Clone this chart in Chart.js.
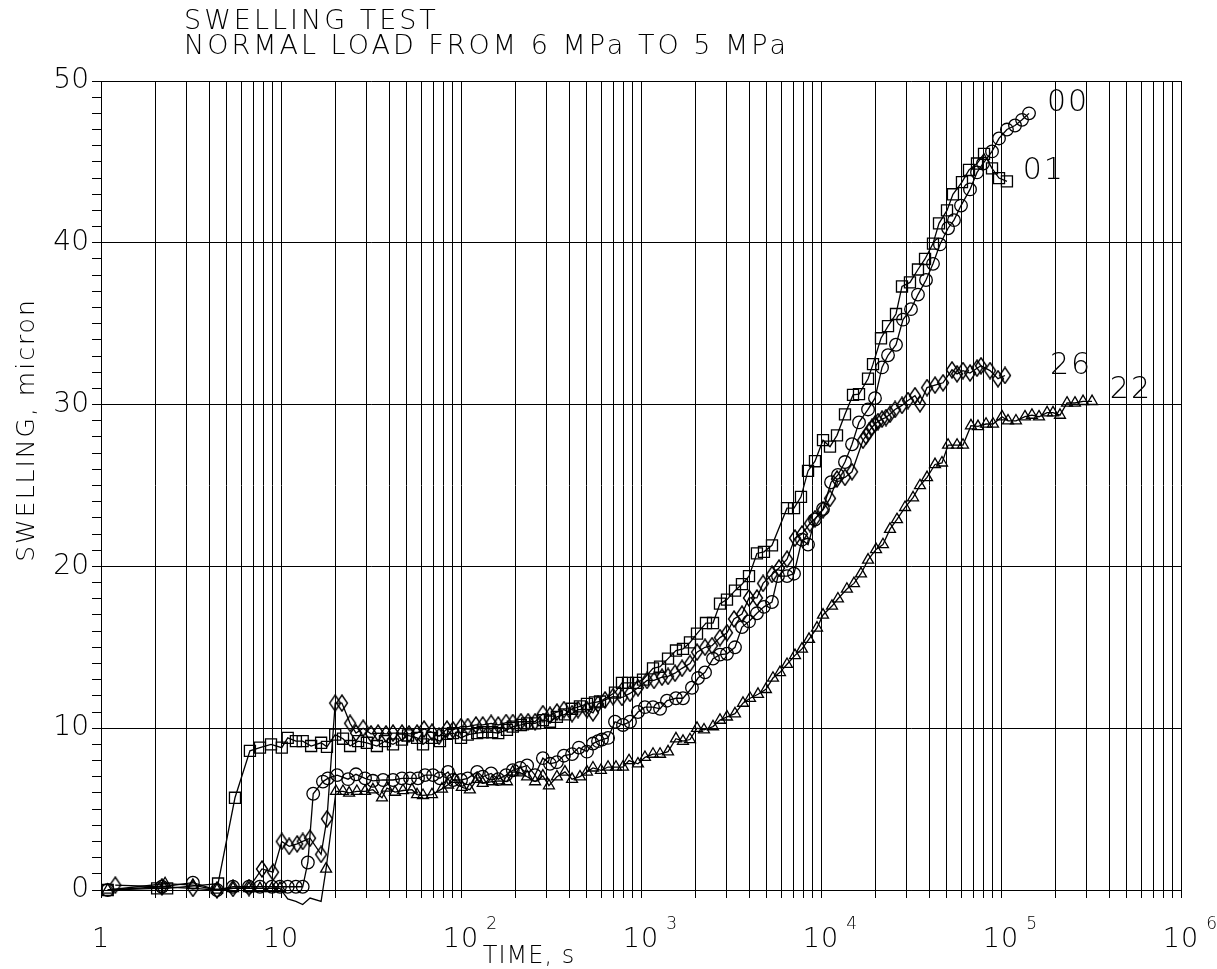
<!DOCTYPE html>
<html>
<head>
<meta charset="utf-8">
<script src="https://cdn.jsdelivr.net/npm/chart.js@4.4.1/dist/chart.umd.min.js"></script>
<style>
  html, body { margin: 0; padding: 0; background: #fff; }
</style>
</head>
<body>
<canvas id="chart" width="1217" height="969"></canvas>
<script>
const FONT = "'DejaVu Sans', 'Liberation Sans', sans-serif";

const titleLines = ["SWELLING TEST", "NORMAL LOAD FROM 6 MPa TO 5 MPa"];
const xTitle = "TIME, s";
const yTitle = "SWELLING, micron";

// curve names and where they are written (time, swelling)
const curveNames = ["00", "01", "26", "22"];
const nameTime = [236000, 173000, 245000, 527000];
const nameSwell = [48.6, 44.4, 32.4, 30.9];

// x tick labels at the decades: base text and exponent
const decadeValues = [1, 10, 100, 1000, 10000, 100000, 1000000];
const decadeBase = ["1", "10", "10", "10", "10", "10", "10"];
const decadeExp = ["", "", "2", "3", "4", "5", "6"];

// series 00 (circles)
const time00 = [1.09, 2.18, 3.24, 4.41, 5.41, 6.64, 7.64, 8.91, 9.87, 10.9,
  12.1, 13.2, 14.1, 15.1, 17.1, 18.2, 20.5, 23.6, 26.1, 29.3,
  32.4, 36.9, 41.9, 47.0, 52.1, 57.7, 63.1, 69.9, 76.4, 84.7,
  90.3, 100, 109, 123, 132, 147, 161, 178, 194, 213,
  233, 258, 285, 312, 341, 373, 414, 452, 501, 541,
  577, 607, 656, 717, 794, 869, 962, 1052, 1166, 1276,
  1394, 1564, 1711, 1919, 2073, 2268, 2512, 2747, 3004, 3327,
  3638, 3981, 4406, 4820, 5342, 5770, 6474, 7080, 7840, 8470,
  9260, 10260, 11370, 12420, 13590, 14870, 16260, 18250, 19950, 21830,
  23570, 26100, 28550, 31620, 34570, 38310, 41900, 45800, 50800, 54800,
  59950, 67270, 73580, 79430, 89130, 97480, 107900, 119600, 130900, 143100];
const swell00 = [0, 0.2, 0.45, 0, 0.2, 0.2, 0.2, 0.2, 0.2, 0.2,
  0.2, 0.2, 1.7, 5.95, 6.7, 6.9, 7.1, 6.85, 7.15, 6.9,
  6.75, 6.8, 6.8, 6.9, 6.9, 6.9, 7.1, 7.1, 6.9, 7.3,
  6.8, 6.8, 6.9, 7.3, 7.0, 7.2, 6.85, 7.1, 7.4, 7.55,
  7.7, 7.1, 8.15, 7.8, 7.9, 8.3, 8.4, 8.8, 8.55, 9.05,
  9.2, 9.3, 9.4, 10.4, 10.2, 10.4, 11.0, 11.3, 11.3, 11.2,
  11.7, 11.85, 11.85, 12.5, 13.1, 13.45, 14.3, 14.55, 14.6, 15.0,
  16.25, 16.6, 17.1, 17.5, 17.8, 19.4, 19.4, 19.55, 21.65, 21.35,
  22.9, 23.55, 25.2, 25.65, 26.45, 27.55, 28.9, 29.7, 30.4, 32.3,
  33.05, 33.7, 35.25, 35.9, 36.8, 37.7, 38.7, 39.9, 40.9, 41.4,
  42.3, 43.3, 44.35, 44.9, 45.65, 46.45, 47.0, 47.25, 47.6, 48.0];

// series 01 (squares)
const time01 = [1.09, 2.05, 2.33, 4.47, 5.55, 6.72, 7.64, 8.80, 10.1, 10.9,
  12.1, 13.2, 14.7, 16.7, 18.0, 20.0, 22.1, 24.2, 26.8, 30.0,
  34.1, 37.8, 41.9, 47.0, 50.8, 57.0, 61.5, 69.0, 76.4, 83.6,
  90.3, 100, 109, 123, 132, 149, 161, 180, 194, 215,
  233, 258, 285, 312, 341, 378, 414, 458, 501, 555,
  592, 717, 784, 847, 938, 1026, 1166, 1276, 1413, 1564,
  1711, 1871, 2047, 2296, 2512, 2747, 3004, 3327, 3638, 3981,
  4406, 4820, 5342, 6474, 7080, 7740, 8470, 9260, 10260, 11220,
  12270, 13590, 15060, 16260, 18250, 19450, 21540, 23570, 26100, 28180,
  31210, 34570, 37840, 41900, 45250, 50120, 54080, 60700, 66400, 73580,
  80470, 89130, 97480, 107900];
const swell01 = [0, 0.1, 0.1, 0.4, 5.7, 8.6, 8.8, 9.0, 8.8, 9.4,
  9.2, 9.2, 8.9, 9.1, 8.85, 9.6, 9.35, 8.9, 9.2, 9.1,
  8.9, 9.2, 9.0, 9.3, 9.55, 9.4, 9.0, 9.4, 9.2, 9.65,
  9.7, 9.4, 9.6, 9.7, 9.75, 9.75, 9.7, 9.9, 10.1, 10.2,
  10.3, 10.3, 10.5, 10.4, 10.7, 10.85, 11.2, 11.35, 11.5, 11.6,
  11.65, 12.2, 12.8, 12.8, 12.8, 13.0, 13.7, 13.8, 14.3, 14.8,
  14.9, 15.3, 15.85, 16.5, 16.5, 17.7, 17.95, 18.5, 18.9, 19.4,
  20.8, 20.9, 21.3, 23.6, 23.6, 24.3, 25.9, 26.5, 27.8, 27.4,
  28.1, 29.4, 30.6, 30.65, 31.6, 32.5, 34.1, 34.85, 35.6, 37.3,
  37.55, 38.35, 39.0, 39.95, 41.2, 42.0, 43.0, 43.75, 44.5, 44.9,
  45.5, 44.6, 44.0, 43.8];

// series 26 (diamonds)
const time26 = [1.20, 2.18, 3.24, 4.41, 5.41, 6.64, 7.84, 9.03, 10.1, 11.1,
  12.3, 13.2, 14.5, 16.7, 18.0, 20.0, 21.8, 24.2, 26.1, 28.6,
  31.6, 34.6, 38.3, 41.9, 47.0, 51.4, 57.0, 62.3, 69.0, 75.5,
  83.6, 90.3, 100, 109, 121, 132, 147, 161, 178, 194,
  215, 236, 258, 285, 312, 341, 373, 414, 447, 501,
  541, 577, 631, 699, 784, 869, 962, 1080, 1181, 1308,
  1413, 1545, 1690, 1871, 2047, 2268, 2480, 2747, 3004, 3286,
  3638, 3981, 4406, 4764, 5342, 5843, 6474, 7170, 7840, 8680,
  9260, 10260, 11220, 12270, 13590, 14870, 17110, 17780, 18480, 19190,
  19950, 20730, 21830, 22960, 24170, 25770, 28180, 30420, 33270, 35480,
  38820, 42990, 47640, 53420, 57000, 61500, 67270, 73580, 77400, 86890,
  96230, 105200];
const swell26 = [0.3, 0.2, 0.1, 0, 0.1, 0.15, 1.3, 1.1, 3.0, 2.7,
  2.85, 3.0, 3.2, 2.2, 4.4, 11.55, 11.55, 10.3, 9.7, 10.0,
  9.65, 9.7, 9.65, 9.7, 9.7, 9.65, 9.7, 9.95, 9.75, 9.5,
  9.95, 9.9, 10.1, 10.1, 10.2, 10.2, 10.3, 10.2, 10.35, 10.35,
  10.4, 10.4, 10.4, 10.9, 10.8, 11.0, 11.15, 10.9, 11.15, 11.15,
  10.95, 11.5, 11.75, 11.95, 11.9, 12.15, 12.5, 12.95, 12.95, 13.15,
  13.2, 13.4, 13.7, 14.0, 14.7, 15.0, 15.1, 15.6, 15.9, 16.75,
  17.05, 18.05, 18.05, 18.95, 19.5, 19.9, 20.45, 21.75, 22.0, 22.65,
  22.95, 23.5, 24.2, 25.4, 25.5, 25.85, 27.8, 28.05, 28.35, 28.6,
  28.8, 28.95, 29.1, 29.2, 29.4, 29.7, 29.95, 30.25, 30.55, 30.05,
  31.05, 31.2, 31.35, 32.15, 31.9, 32.1, 31.95, 32.25, 32.4, 32.1,
  31.6, 31.8];

// series 22 (triangles)
const time22 = [1.09, 2.27, 3.24, 4.41, 5.41, 6.64, 7.64, 8.91, 9.87, 10.9,
  12.1, 13.2, 14.5, 16.7, 17.8, 20.2, 22.1, 23.9, 26.4, 29.3,
  32.4, 36.4, 38.8, 43.0, 47.6, 53.4, 57.0, 61.5, 69.0, 78.4,
  84.7, 92.6, 101, 112, 123, 132, 149, 163, 180, 194,
  213, 233, 258, 285, 308, 341, 378, 414, 458, 501,
  541, 599, 656, 726, 794, 858, 962, 1052, 1166, 1276,
  1413, 1564, 1711, 1871, 2047, 2239, 2512, 2747, 3004, 3327,
  3686, 4034, 4467, 4943, 5411, 5918, 6474, 7170, 7840, 8580,
  9500, 10260, 11510, 12420, 13930, 15250, 16680, 18250, 20220, 22100,
  24170, 26430, 29310, 32460, 35480, 38820, 42990, 47010, 50800, 57000,
  61500, 68100, 74500, 82600, 90300, 101300, 109400, 121100, 135900, 148600,
  162600, 180300, 194500, 212700, 232700, 257600, 285600, 320500];
const swell22 = [0, 0.4, 0.3, 0, 0.1, 0.1, 0.1, 0.1, 0.1, -0.55,
  -0.7, -0.9, -0.5, -0.7, 1.3, 6.1, 6.1, 6.0, 6.1, 6.1,
  6.2, 5.7, 6.3, 6.05, 6.15, 6.2, 5.9, 5.85, 5.9, 6.25,
  6.5, 6.85, 6.35, 6.2, 6.85, 6.6, 6.7, 6.75, 6.7, 7.3,
  7.25, 7.0, 6.7, 7.05, 6.45, 7.0, 7.3, 6.85, 7.0, 7.3,
  7.55, 7.4, 7.6, 7.6, 7.6, 8.0, 7.8, 8.2, 8.4, 8.4,
  8.55, 9.35, 9.2, 9.3, 10.0, 9.9, 10.1, 10.5, 10.7, 10.9,
  11.55, 11.85, 12.1, 12.4, 13.1, 13.45, 13.95, 14.5, 14.9, 15.5,
  16.2, 17.0, 17.55, 18.0, 18.6, 18.95, 19.55, 20.4, 21.05, 21.35,
  22.3, 22.9, 23.65, 24.25, 25.0, 25.5, 26.3, 26.4, 27.5, 27.5,
  27.5, 28.7, 28.65, 28.8, 28.8, 29.25, 29.0, 29.0, 29.25, 29.35,
  29.25, 29.5, 29.5, 29.35, 30.1, 30.1, 30.2, 30.2];

// grid lines at 1..9 x 10^n
const gridValues = [];
for (let e = 0; e < 6; e++) {
  for (let m = 1; m < 10; m++) gridValues.push(m * Math.pow(10, e));
}
gridValues.push(1000000);

function pairs(ts, vs) {
  return ts.map((t, i) => ({ x: t, y: vs[i] }));
}

// tall hollow diamond marker
function diamondMarker() {
  const c = document.createElement('canvas');
  c.width = 14; c.height = 18;
  const g = c.getContext('2d');
  g.strokeStyle = '#000';
  g.lineWidth = 1.4;
  g.beginPath();
  g.moveTo(7, 1); g.lineTo(12.5, 9); g.lineTo(7, 17); g.lineTo(1.5, 9); g.closePath();
  g.stroke();
  return c;
}

function series(label, ts, vs, style, radius) {
  return {
    label: label,
    data: pairs(ts, vs),
    borderColor: '#000',
    backgroundColor: 'rgba(0,0,0,0)',
    borderWidth: 1.3,
    pointStyle: style,
    pointRadius: radius,
    pointBorderWidth: 1.3,
    pointBorderColor: '#000',
    pointBackgroundColor: 'rgba(0,0,0,0)',
    tension: 0,
    fill: false,
    clip: false
  };
}

const annotate = {
  id: 'annotate',
  afterDraw(chart) {
    const { ctx, scales: { x, y } } = chart;
    ctx.save();
    ctx.fillStyle = '#000';
    ctx.font = "200 27px " + FONT;
    ctx.letterSpacing = '3px';
    ctx.textAlign = 'left';
    ctx.textBaseline = 'alphabetic';
    ctx.fillText(titleLines[0], 184, 29);
    ctx.fillText(titleLines[1], 184, 54);

    // decade labels: base centred on the grid line, exponent raised to its right
    ctx.letterSpacing = '1px';
    ctx.textBaseline = 'middle';
    decadeValues.forEach((v, i) => {
      const px = x.getPixelForValue(v);
      ctx.font = "200 27px " + FONT;
      ctx.textAlign = 'center';
      ctx.fillText(decadeBase[i], px, 940);
      if (decadeExp[i]) {
        const half = ctx.measureText(decadeBase[i]).width / 2;
        ctx.font = "200 17px " + FONT;
        ctx.textAlign = 'left';
        ctx.fillText(decadeExp[i], px + half + 7, 925);
      }
    });

    ctx.letterSpacing = '2px';
    ctx.font = "200 30px " + FONT;
    ctx.textAlign = 'center';
    ctx.textBaseline = 'middle';
    curveNames.forEach((n, i) => {
      ctx.fillText(n, x.getPixelForValue(nameTime[i]), y.getPixelForValue(nameSwell[i]));
    });

    ctx.font = "200 24px " + FONT;
    ctx.letterSpacing = '1px';
    ctx.fillText(xTitle, 529, 957);
    ctx.letterSpacing = '2px';
    ctx.font = "200 25px " + FONT;
    ctx.translate(27, 430);
    ctx.rotate(-Math.PI / 2);
    ctx.fillText(yTitle, 0, 0);
    ctx.restore();
  }
};

new Chart(document.getElementById('chart'), {
  type: 'line',
  data: {
    datasets: [
      series('00', time00, swell00, 'circle', 6.3),
      series('01', time01, swell01, 'rect', 7.8),
      series('26', time26, swell26, diamondMarker(), 7),
      series('22', time22, swell22, 'triangle', 6.3)
    ]
  },
  options: {
    responsive: false,
    animation: false,
    devicePixelRatio: 1,
    layout: { padding: { left: 0, right: 36, top: 81, bottom: 0 } },
    plugins: {
      legend: { display: false },
      title: { display: false },
      tooltip: { enabled: false }
    },
    scales: {
      x: {
        type: 'logarithmic',
        min: 1,
        max: 1000000,
        afterBuildTicks: (scale) => {
          scale.ticks = gridValues.map(v => ({ value: v }));
        },
        afterFit: (scale) => {
          scale.height = 79;
          scale.paddingLeft = 0;
          scale.paddingRight = 0;
        },
        grid: { color: '#000', lineWidth: 1, drawTicks: true, tickLength: 8, tickColor: '#000' },
        border: { display: true, color: '#000', width: 1 },
        ticks: { display: false, autoSkip: false, maxRotation: 0 }
      },
      y: {
        type: 'linear',
        min: 0,
        max: 50,
        afterFit: (scale) => { scale.width = 101; },
        grid: {
          color: (c) => (c.tick && c.tick.value % 10 === 0) ? '#000' : 'rgba(0,0,0,0)',
          lineWidth: 1,
          drawTicks: true,
          tickLength: 9,
          tickColor: '#000'
        },
        border: { display: true, color: '#000', width: 1 },
        ticks: {
          stepSize: 1,
          autoSkip: false,
          padding: 3,
          color: '#000',
          font: { family: FONT, size: 28, weight: '200' },
          callback: (v) => (v % 10 === 0 ? String(v) : '')
        }
      }
    }
  },
  plugins: [annotate]
});
</script>
</body>
</html>
